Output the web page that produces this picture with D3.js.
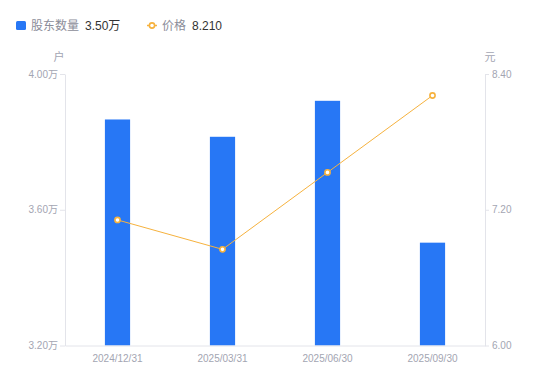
<!DOCTYPE html>
<html>
<head>
<meta charset="utf-8">
<script src="https://cdn.jsdelivr.net/npm/d3@7"></script>
<style>
  html, body { margin: 0; padding: 0; background: #fff; }
  #chart { width: 550px; height: 381px; }
  text { font-family: "Liberation Sans", Arial, "Noto Sans CJK SC", sans-serif; }
</style>
</head>
<body>
<div id="chart"></div>
<script>
// Report dates and values
const dates = ['2024/12/31', '2025/03/31', '2025/06/30', '2025/09/30'];
const holders = [3.866, 3.815, 3.921, 3.503];   // 万户
const prices = [7.11, 6.85, 7.53, 8.21];        // 元
const leftTicks = [3.2, 3.6, 4.0];
const rightTicks = [6.0, 7.2, 8.4];

const blue = '#2777f5';
const orange = '#f6b23e';
const muted = '#a3a5b2';
const axisColor = '#e3e4ea';

const width = 550;
const height = 381;
const margin = { top: 74, right: 65, bottom: 35.5, left: 65 };
const innerWidth = width - margin.left - margin.right;
const innerHeight = height - margin.top - margin.bottom;

const svg = d3.select('#chart')
  .append('svg')
  .attr('width', width)
  .attr('height', height);

// Legend
const legend = svg.append('g').attr('transform', 'translate(16,21)');
legend.append('rect')
  .attr('width', 10).attr('height', 9).attr('rx', 1.5)
  .attr('fill', blue);
legend.append('text')
  .attr('x', 15).attr('y', 8.5)
  .attr('font-size', 12).attr('fill', '#8b8d99')
  .text('股东数量');
legend.append('text')
  .attr('x', 69).attr('y', 8.5)
  .attr('font-size', 12).attr('fill', '#333')
  .text(holders[holders.length - 1].toFixed(2) + '万');

legend.append('line')
  .attr('x1', 131).attr('x2', 141).attr('y1', 4.5).attr('y2', 4.5)
  .attr('stroke', orange).attr('stroke-width', 1.5);
legend.append('circle')
  .attr('cx', 136).attr('cy', 4.5).attr('r', 2.6)
  .attr('fill', '#fff').attr('stroke', orange).attr('stroke-width', 1.6);
legend.append('text')
  .attr('x', 146).attr('y', 8.5)
  .attr('font-size', 12).attr('fill', '#8b8d99')
  .text('价格');
legend.append('text')
  .attr('x', 176).attr('y', 8.5)
  .attr('font-size', 12).attr('fill', '#333')
  .text(prices[prices.length - 1].toFixed(3));

const g = svg.append('g')
  .attr('transform', `translate(${margin.left},${margin.top})`);

// Scales
const xScale = d3.scaleBand()
  .domain(dates)
  .range([0, innerWidth])
  .padding(0);

const yLeft = d3.scaleLinear()
  .domain([3.2, 4.0])
  .range([innerHeight, 0]);

const yRight = d3.scaleLinear()
  .domain([6.0, 8.4])
  .range([innerHeight, 0]);

const barWidth = xScale.bandwidth() * 0.24;

// Bars
g.selectAll('.bar')
  .data(dates.map((d, i) => ({ date: d, value: holders[i] })))
  .enter()
  .append('rect')
  .attr('class', 'bar')
  .attr('x', d => xScale(d.date) + (xScale.bandwidth() - barWidth) / 2)
  .attr('y', d => yLeft(d.value))
  .attr('width', barWidth)
  .attr('height', d => innerHeight - yLeft(d.value))
  .attr('fill', blue);

// Axes
const styleAxis = (axis) => {
  axis.selectAll('text')
    .attr('font-size', 10)
    .attr('fill', muted);
  axis.selectAll('line, path')
    .attr('stroke', axisColor);
};

const leftAxis = g.append('g')
  .call(d3.axisLeft(yLeft)
    .tickValues(leftTicks)
    .tickFormat(d => d.toFixed(2) + '万')
    .tickSize(5)
    .tickSizeOuter(0)
    .tickPadding(2));
styleAxis(leftAxis);

const rightAxis = g.append('g')
  .attr('transform', `translate(${innerWidth},0)`)
  .call(d3.axisRight(yRight)
    .tickValues(rightTicks)
    .tickFormat(d => d.toFixed(2))
    .tickSize(4)
    .tickSizeOuter(0)
    .tickPadding(3));
styleAxis(rightAxis);

const xAxis = g.append('g')
  .attr('transform', `translate(0,${innerHeight})`)
  .call(d3.axisBottom(xScale)
    .tickSize(0)
    .tickSizeOuter(0)
    .tickPadding(9));
styleAxis(xAxis);

// Unit labels
g.append('text')
  .attr('x', -6).attr('y', -13)
  .attr('text-anchor', 'middle')
  .attr('font-size', 11).attr('fill', muted)
  .text('户');
g.append('text')
  .attr('x', innerWidth + 5).attr('y', -13)
  .attr('text-anchor', 'middle')
  .attr('font-size', 11).attr('fill', muted)
  .text('元');

// Price line
const line = d3.line()
  .x((d, i) => xScale(dates[i]) + xScale.bandwidth() / 2)
  .y(d => yRight(d));

g.append('path')
  .datum(prices)
  .attr('fill', 'none')
  .attr('stroke', orange)
  .attr('stroke-width', 1)
  .attr('d', line);

g.selectAll('.dot')
  .data(prices)
  .enter()
  .append('circle')
  .attr('class', 'dot')
  .attr('cx', (d, i) => xScale(dates[i]) + xScale.bandwidth() / 2)
  .attr('cy', d => yRight(d))
  .attr('r', 2.6)
  .attr('fill', '#fff')
  .attr('stroke', orange)
  .attr('stroke-width', 1.6);
</script>
</body>
</html>
